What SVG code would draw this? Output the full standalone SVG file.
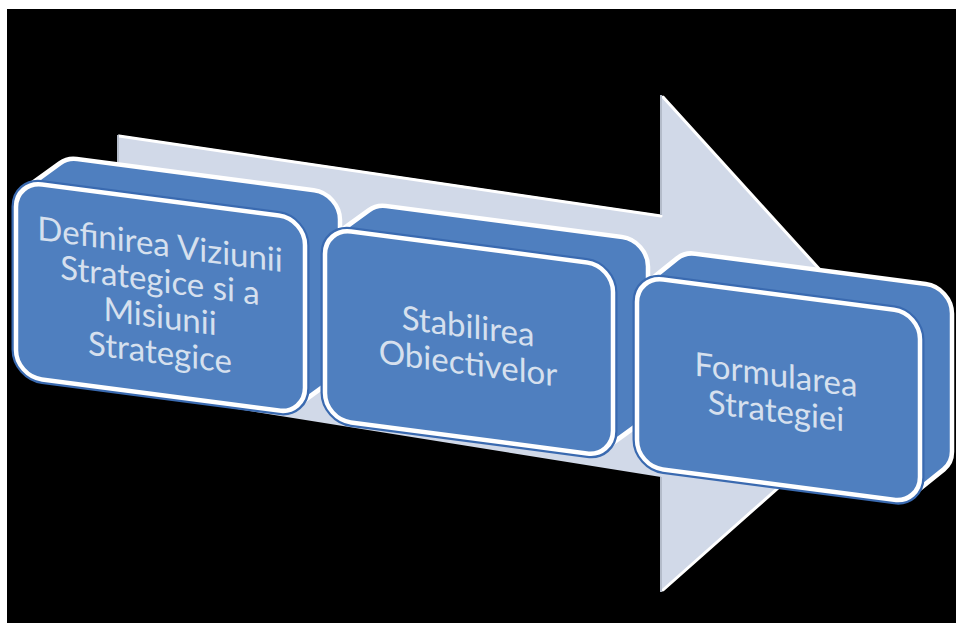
<svg xmlns="http://www.w3.org/2000/svg" width="956" height="623" viewBox="0 0 956 623">
<defs>
<style>
.bg-white{fill:#ffffff}
.bg-black{fill:#000000}
.arrow{fill:#D1D9E8}
.hi{fill:none;stroke:#ffffff;stroke-width:3;stroke-linejoin:round;stroke-linecap:round}
.lo{fill:none;stroke:#B4BCCA;stroke-width:2}
.hull{fill:#4F7FBF;stroke:#ffffff;stroke-width:4.5;stroke-linejoin:round}
.band{fill:none;stroke:#3A6AB0;stroke-width:9}
.front{fill:#4F7FBF;stroke:#ffffff;stroke-width:4.5}
.lbl{font-family:Lato,"Open Sans","Liberation Sans",sans-serif;font-size:33px;fill:#D6E0EE;text-anchor:middle}
</style>
</defs>
<rect class="bg-white" x="0" y="0" width="956" height="623"/>
<rect class="bg-black" x="7" y="9" width="949" height="614"/>

<g id="connectors">
  <g id="arrow">
    <polygon class="arrow" points="118,135 661,215 661,95 911,370 661,592 661,477 118,390"/>
    <polyline class="hi" points="119,136 661,216"/>
    <polyline class="hi" points="663,97 911,370 663,590"/>
    <line class="lo" x1="118" y1="135" x2="118" y2="390"/>
    <line class="lo" x1="661" y1="95" x2="661" y2="215"/>
    <line class="lo" x1="661" y1="477" x2="661" y2="592"/>
  </g>
</g>

<g id="box1" transform="translate(16,181) skewY(7.5)">
  <path class="hull" d="M0,26 A26,26 0 0 1 9.1,6.3 L44.1,-23.7 A26,26 0 0 1 61,-30 L298,-30 A26,26 0 0 1 324,-4 L324,139 A26,26 0 0 1 314.9,158.7 L279.9,188.7 A26,26 0 0 1 263,195 L26,195 A26,26 0 0 1 0,169 Z"/>
  <rect class="band" x="0" y="0" width="289" height="195" rx="26"/>
  <rect class="front" x="0" y="0" width="289" height="195" rx="26"/>
  <text class="lbl" x="144" y="56">Definirea Viziunii</text>
  <text class="lbl" x="144" y="92">Strategice si a</text>
  <text class="lbl" x="144" y="128">Misiunii</text>
  <text class="lbl" x="144" y="164">Strategice</text>
</g>

<g id="box2" transform="translate(325,228) skewY(7.5)">
  <path class="hull" d="M0,26 A26,26 0 0 1 9.1,6.3 L44.1,-23.7 A26,26 0 0 1 61,-30 L297,-30 A26,26 0 0 1 323,-4 L323,135 A26,26 0 0 1 313.9,154.7 L278.9,184.7 A26,26 0 0 1 262,191 L26,191 A26,26 0 0 1 0,165 Z"/>
  <rect class="band" x="0" y="0" width="288" height="191" rx="26"/>
  <rect class="front" x="0" y="0" width="288" height="191" rx="26"/>
  <text class="lbl" x="143" y="91">Stabilirea</text>
  <text class="lbl" x="143" y="128">Obiectivelor</text>
</g>

<g id="box3" transform="translate(637,276) skewY(7.5)">
  <path class="hull" d="M0,26 A26,26 0 0 1 8.2,7.1 L40.2,-22.9 A26,26 0 0 1 58,-30 L289,-30 A26,26 0 0 1 315,-4 L315,134 A26,26 0 0 1 306.8,152.9 L274.8,182.9 A26,26 0 0 1 257,190 L26,190 A26,26 0 0 1 0,164 Z"/>
  <rect class="band" x="0" y="0" width="283" height="190" rx="26"/>
  <rect class="front" x="0" y="0" width="283" height="190" rx="26"/>
  <text class="lbl" x="139" y="92">Formularea</text>
  <text class="lbl" x="139" y="128">Strategiei</text>
</g>
</svg>
